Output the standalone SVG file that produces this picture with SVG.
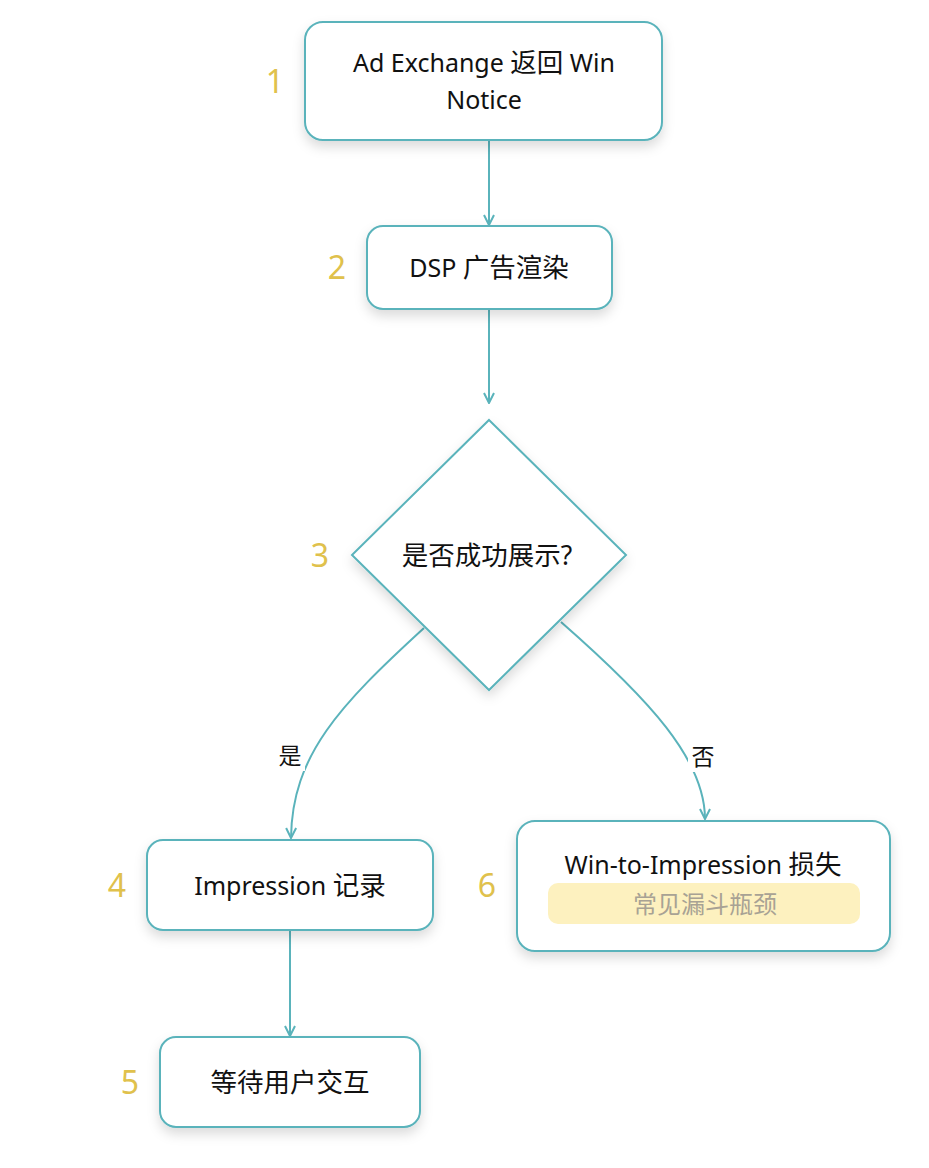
<svg xmlns="http://www.w3.org/2000/svg" width="929" height="1168" viewBox="0 0 929 1168">
<defs>
<style>
.box{fill:#ffffff;stroke:#5ab3bb;stroke-width:2;filter:url(#sh)}
.edge{fill:none;stroke:#5ab3bb;stroke-width:2;marker-end:url(#arr)}
.t{font-family:"Noto Sans","Noto Sans CJK SC",sans-serif;font-size:25px;fill:#111111;text-anchor:middle}
.c{font-size:26.5px}
.num{font-family:"Noto Sans","Noto Sans CJK SC",sans-serif;font-size:32px;fill:#e0c14c;text-anchor:middle}
.lbl{font-family:"Noto Sans CJK SC","Noto Sans",sans-serif;font-size:23px;fill:#111111;text-anchor:middle}
.sub{font-family:"Noto Sans CJK SC","Noto Sans",sans-serif;font-size:24px;fill:#a8a294;text-anchor:middle}
</style>
<filter id="sh" x="-20%" y="-20%" width="140%" height="160%">
<feDropShadow dx="0" dy="6" stdDeviation="6" flood-color="#000000" flood-opacity="0.14"/>
</filter>
<marker id="arr" viewBox="0 0 12 12" refX="11" refY="6" markerWidth="12" markerHeight="12" markerUnits="userSpaceOnUse" orient="auto">
<path d="M1,1 L11,6 L1,11" fill="none" stroke="#5ab3bb" stroke-width="2"/>
</marker>
</defs>
<rect width="929" height="1168" fill="#ffffff"/>
<g id="connectors">
<path class="edge" d="M489,140 L489,225"/>
<path class="edge" d="M489,309 L489,403"/>
<path class="edge" d="M424,628 C340,705 292,755 291,838"/>
<path class="edge" d="M561,622 C650,700 705,760 705,819"/>
<path class="edge" d="M290,930 L290,1036"/>
<rect x="275" y="739" width="30" height="32" fill="#ffffff"/>
<text class="lbl" x="290" y="764">是</text>
<rect x="688" y="740" width="30" height="32" fill="#ffffff"/>
<text class="lbl" x="703" y="765">否</text>
</g>
<g id="n1">
<rect class="box" x="305" y="22" width="357" height="118" rx="18"/>
<text class="t" x="484" y="72">Ad Exchange <tspan class="c">返回</tspan> Win</text>
<text class="t" x="484" y="109">Notice</text>
<text class="num" x="275" y="93">1</text>
</g>
<g id="n2">
<rect class="box" x="367" y="226" width="245" height="83" rx="16"/>
<text class="t" x="489" y="277">DSP <tspan class="c">广告渲染</tspan></text>
<text class="num" x="337" y="279">2</text>
</g>
<g id="n3">
<polygon class="box" points="489,420 626,555 489,690 352,555"/>
<text class="t c" x="487" y="565">是否成功展示?</text>
<text class="num" x="320" y="567">3</text>
</g>
<g id="n4">
<rect class="box" x="147" y="840" width="286" height="90" rx="16"/>
<text class="t" x="290" y="895">Impression <tspan class="c">记录</tspan></text>
<text class="num" x="117" y="897">4</text>
</g>
<g id="n5">
<rect class="box" x="160" y="1037" width="260" height="90" rx="16"/>
<text class="t c" x="290" y="1092">等待用户交互</text>
<text class="num" x="130" y="1094">5</text>
</g>
<g id="n6">
<rect class="box" x="517" y="821" width="373" height="130" rx="18"/>
<text class="t" x="703" y="874">Win-to-Impression <tspan class="c">损失</tspan></text>
<rect x="548" y="883" width="312" height="41" rx="10" fill="#fdf1bf"/>
<text class="sub" x="705" y="913">常见漏斗瓶颈</text>
<text class="num" x="487" y="897">6</text>
</g>
</svg>
